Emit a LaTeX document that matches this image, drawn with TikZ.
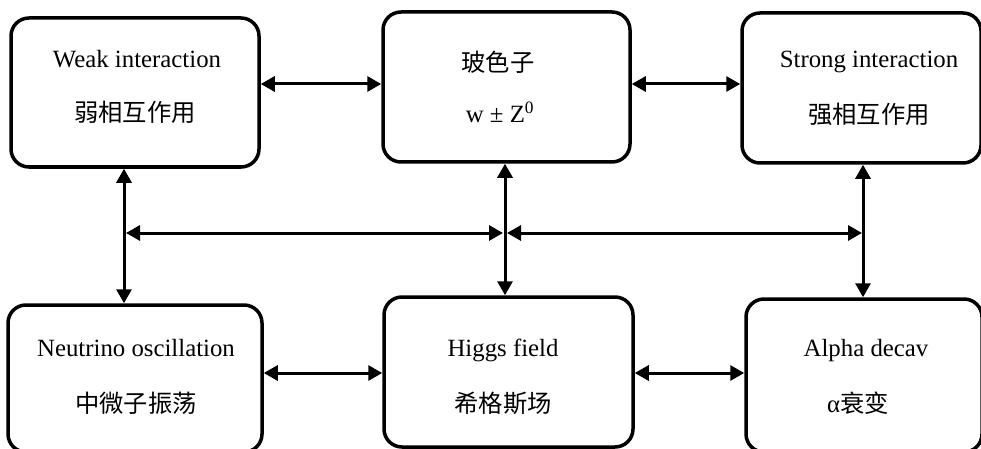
\documentclass[tikz,border=0pt]{standalone}
\usepackage{fontspec}
\setmainfont{Liberation Serif}
\newfontfamily\cjk{Noto Sans CJK SC}
\usetikzlibrary{arrows.meta}
\newcommand{\fz}{\fontsize{24.8}{29}\selectfont}
\newcommand{\fc}{\fontsize{24.3}{29}\selectfont\cjk}
\begin{document}
\begin{tikzpicture}[x=1pt,y=-1pt,
  box/.style={draw, line width=3.5pt, rounded corners=18pt, inner sep=0pt},
  lbl/.style={anchor=base, inner sep=0pt, font=\fz},
  arr/.style={line width=3pt, {Triangle[length=14pt,width=15pt]}-{Triangle[length=14pt,width=15pt]}}]
\useasboundingbox (0,0) rectangle (981,449);
% boxes
\node[box, minimum width=248pt, minimum height=149pt] (b1) at (135,92.5) {};
\node[box, minimum width=247pt, minimum height=150pt] (b2) at (506.5,87) {};
\node[box, minimum width=239pt, minimum height=150pt] (b3) at (861.5,88) {};
\node[box, minimum width=254pt, minimum height=147pt] (b4) at (135,378.5) {};
\node[box, minimum width=249pt, minimum height=150pt] (b5) at (508.5,372) {};
\node[box, minimum width=236pt, minimum height=153pt] (b6) at (864,375.5) {};
% texts
\node[lbl] (t1a) at (137,68) {Weak interaction};
\node[lbl] (t1b) at (135,122) {\fc 弱相互作用};
\node[lbl] (t2a) at (498,72) {\fc 玻色子};
\node[lbl] (t2b) at (500,123) {w ± Z\textsuperscript{0}};
\node[lbl] (t3a) at (869,68) {Strong interaction};
\node[lbl] (t3b) at (869,124) {\fc 强相互作用};
\node[lbl] (t4a) at (136,356) {Neutrino oscillation};
\node[lbl] (t4b) at (136,412) {\fc 中微子振荡};
\node[lbl] (t5a) at (503,356) {Higgs field};
\node[lbl] (t5b) at (503,412) {\fc 希格斯场};
\node[lbl] (t6a) at (866,356) {Alpha decav};
\node[lbl] (t6b) at (858,412) {α{\fc 衰变}};
% helper coordinates
\coordinate (cL) at (124,233);
\coordinate (cM) at (505,233);
\coordinate (cR) at (863,233);
\coordinate (rT) at (0,84);
\coordinate (rB) at (0,373);
% connectors
\draw[arr] (b1.east |- rT) -- (b2.west |- rT);
\draw[arr] (b2.east |- rT) -- (b3.west |- rT);
\draw[arr] (b4.east |- rB) -- (b5.west |- rB);
\draw[arr] (b5.east |- rB) -- (b6.west |- rB);
\draw[arr] (b1.south -| cL) -- (b4.north -| cL);
\draw[arr] (b2.south -| cM) -- (b5.north -| cM);
\draw[arr] (b3.south -| cR) -- (b6.north -| cR);
\draw[arr] ([xshift=2pt]cL) -- ([xshift=-2pt]cM);
\draw[arr] ([xshift=2pt]cM) -- ([xshift=-1pt]cR);
\end{tikzpicture}
\end{document}
